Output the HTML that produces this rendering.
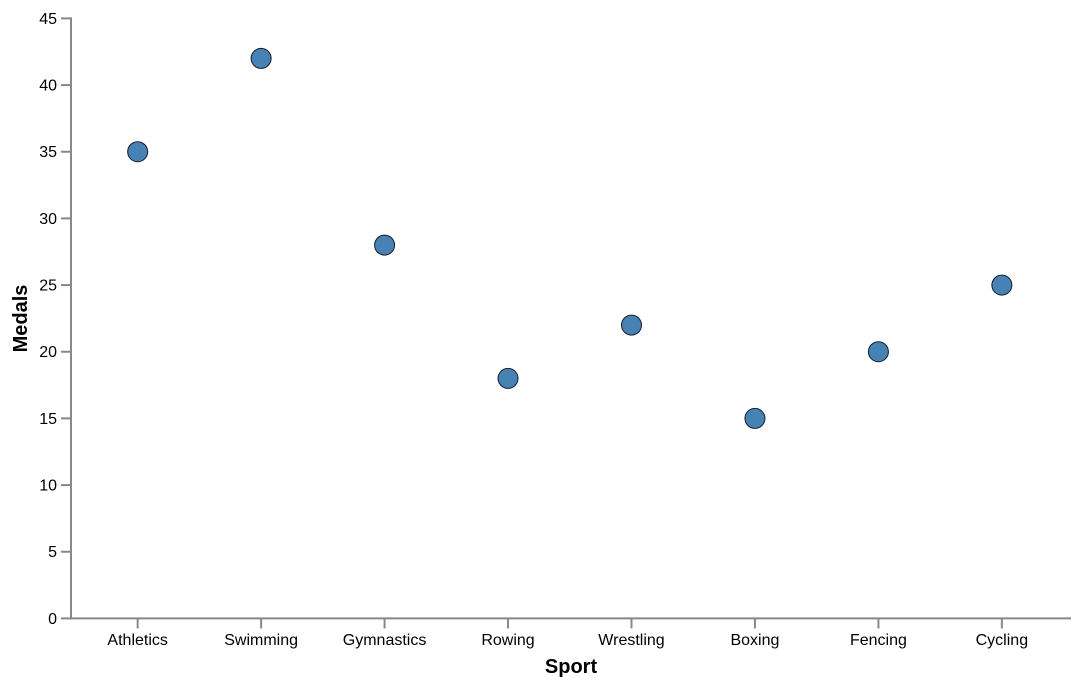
<!DOCTYPE html>
<html lang="en">
<head>
<meta charset="utf-8">
<title>Medals by Sport</title>
<style>
html,body{margin:0;padding:0;background:#fff;width:1080px;height:686px;overflow:hidden}
svg{display:block}
text{font-family:"Liberation Sans",Arial,sans-serif;fill:#000}
.tick-label{font-size:16px}
.axis-title{font-size:20px;font-weight:bold}
</style>
</head>
<body>
<svg id="chart" width="1080" height="686" viewBox="0 0 1080 686" xmlns="http://www.w3.org/2000/svg"></svg>
<script>
const categories = ["Athletics","Swimming","Gymnastics","Rowing","Wrestling","Boxing","Fencing","Cycling"];
const medals = [35,42,28,18,22,15,20,25];
const yTicks = [0,5,10,15,20,25,30,35,40,45];

const svg = document.getElementById('chart');
const NS = 'http://www.w3.org/2000/svg';
const plotLeft = 71, plotRight = 1071, plotTop = 18.4, plotBottom = 618.4;
const yMax = 45;
const axisColor = '#888888';

function yScale(v){ return plotBottom - (v / yMax) * (plotBottom - plotTop); }
function xScale(i){
  const step = (plotRight - plotLeft) / (categories.length + 0.1);
  return plotLeft + step * (i + 0.54);
}
function make(tag, attrs, parent){
  const el = document.createElementNS(NS, tag);
  for (const k in attrs) el.setAttribute(k, attrs[k]);
  (parent || svg).appendChild(el);
  return el;
}

const yAxis = make('g', {});


const xAxis = make('g', {});



const yDomain = make('line', {x1:plotLeft, x2:plotLeft, y1:plotTop - 1, y2:plotBottom + 1, stroke:axisColor, 'stroke-width':2}, yAxis);



const xDomain = make('line', {x1:plotLeft, x2:plotRight, y1:plotBottom, y2:plotBottom, stroke:axisColor, 'stroke-width':2}, xAxis);



yTicks.forEach(function(t){
  const y = yScale(t);
  const tick = make('line', {x1:plotLeft - 10, x2:plotLeft, y1:y, y2:y, stroke:axisColor, 'stroke-width':2}, yAxis);
  
  
  const label = make('text', {x:plotLeft - 14, y:y + 5.5, 'text-anchor':'end', class:'tick-label'}, yAxis);
  
  
  label.textContent = t;
});

categories.forEach(function(c, i){
  const x = xScale(i);
  const tick = make('line', {x1:x, x2:x, y1:plotBottom, y2:plotBottom + 10, stroke:axisColor, 'stroke-width':2}, xAxis);
  
  
  const label = make('text', {x:x, y:645, 'text-anchor':'middle', class:'tick-label'}, xAxis);
  
  
  label.textContent = c;
});

const xTitle = make('text', {x:571, y:673, 'text-anchor':'middle', class:'axis-title'});


xTitle.textContent = 'Sport';

const yTitle = make('text', {x:0, y:0, 'text-anchor':'middle', class:'axis-title', transform:'translate(27,318.5) rotate(-90)'});


yTitle.textContent = 'Medals';

const points = make('g', {});


medals.forEach(function(v, i){
  const dot = make('circle', {cx:xScale(i), cy:yScale(v), r:10, fill:'#4682b4', stroke:'#1a1a2a', 'stroke-width':1}, points);
  
  
});
</script>
</body>
</html>
